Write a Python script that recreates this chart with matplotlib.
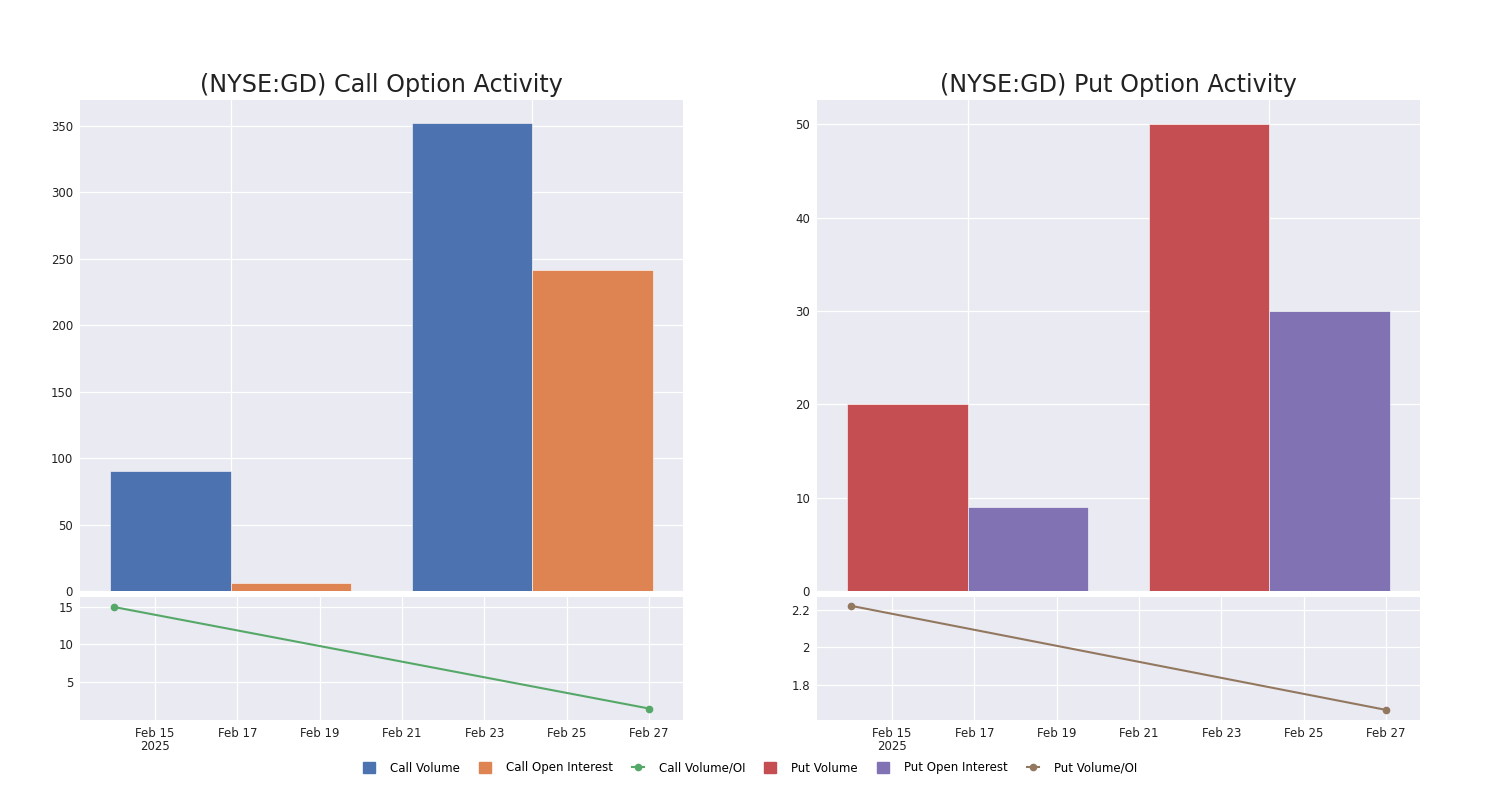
import numpy as np
import pandas as pd
import matplotlib
matplotlib.use("Agg")
import matplotlib.pyplot as plt
from matplotlib.patches import Patch
from matplotlib.lines import Line2D

plt.rcParams["font.family"] = ["DejaVu Sans"]

dates = pd.to_datetime(["2025-02-14", "2025-02-27"])
call_volume = [90, 352]
call_oi = [6, 242]
put_volume = [20, 50]
put_oi = [9, 30]
call_ratio = [v / o for v, o in zip(call_volume, call_oi)]
put_ratio = [v / o for v, o in zip(put_volume, put_oi)]

tick_dates = pd.date_range("2025-02-15", "2025-02-27", freq="2D")
tick_labels = [d.strftime("%b %d") for d in tick_dates]
tick_labels[0] += "\n2025"

blue, orange, green = "#4C72B0", "#DD8452", "#55A868"
red, purple, brown = "#C44E52", "#8172B3", "#937860"
bg = "#EAEAF2"

fig = plt.figure(figsize=(15, 8), dpi=100)
W, H = 1500, 800


def style(ax):
    ax.set_facecolor(bg)
    for s in ax.spines.values():
        s.set_visible(False)
    ax.grid(True, color="white", linewidth=0.9)
    ax.set_axisbelow(True)
    ax.tick_params(length=0, labelsize=8.5, colors="#222222", pad=5)


def panel(x0, title, vol, oi, ratio, c1, c2, c3, ytop, yticks, ylim2, yticks2, ylabels2):
    ax = fig.add_axes([x0 / W, (H - 591) / H, 603 / W, 491 / H])
    ax2 = fig.add_axes([x0 / W, (H - 720) / H, 603 / W, 123 / H])
    style(ax)
    style(ax2)
    x = np.arange(len(vol))
    ax.bar(x - 0.2, vol, width=0.4, color=c1, edgecolor="white", linewidth=0.4)
    ax.bar(x + 0.2, oi, width=0.4, color=c2, edgecolor="white", linewidth=0.4)
    ax.set_xlim(-0.5, 1.5)
    ax.set_xticks(x)
    ax.set_xticklabels([])
    ax.set_ylim(0, ytop)
    ax.set_yticks(yticks)
    ax.set_title(title, fontsize=17.2, pad=6, color="#222222")

    ax2.plot(dates, ratio, color=c3, marker="o", markersize=4.5, linewidth=1.5)
    pad = pd.Timedelta(days=0.82)
    ax2.set_xlim(dates[0] - pad, dates[-1] + pad)
    ax2.set_xticks(tick_dates)
    ax2.set_xticklabels(tick_labels, linespacing=1.05)
    ax2.set_ylim(*ylim2)
    ax2.set_yticks(yticks2)
    ax2.set_yticklabels(ylabels2)


panel(80, "(NYSE:GD) Call Option Activity", call_volume, call_oi, call_ratio,
      blue, orange, green, 369.6, range(0, 351, 50), (-0.07, 16.33), [5, 10, 15], ["5", "10", "15"])
panel(817, "(NYSE:GD) Put Option Activity", put_volume, put_oi, put_ratio,
      red, purple, brown, 52.6, range(0, 51, 10), (1.613, 2.269), [1.8, 2.0, 2.2], ["1.8", "2", "2.2"])

handles = [
    Patch(color=blue), Patch(color=orange),
    Line2D([], [], color=green, marker="o", markersize=4.5, linewidth=1.5),
    Patch(color=red), Patch(color=purple),
    Line2D([], [], color=brown, marker="o", markersize=4.5, linewidth=1.5),
]
labels = ["Call Volume", "Call Open Interest", "Call Volume/OI",
          "Put Volume", "Put Open Interest", "Put Volume/OI"]
fig.legend(handles, labels, loc="center", bbox_to_anchor=(0.5, (H - 768) / H), ncol=6,
           frameon=False, fontsize=8.5, handlelength=1.0, handleheight=1.0,
           columnspacing=1.6, handletextpad=1.3)

fig.savefig("out.png", dpi=100)
